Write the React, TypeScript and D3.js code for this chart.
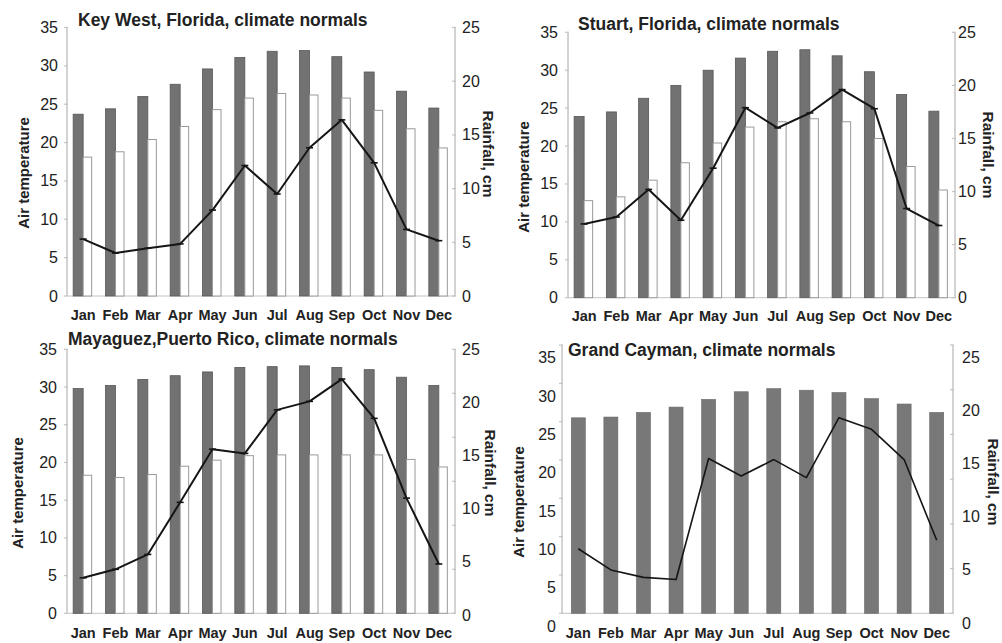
import React from "react";
import * as d3 from "d3";

// Month categories and axis tick labels
const months = ["Jan", "Feb", "Mar", "Apr", "May", "Jun", "Jul", "Aug", "Sep", "Oct", "Nov", "Dec"];
const tempTicks = [0, 5, 10, 15, 20, 25, 30, 35];
const rainTicks = [0, 5, 10, 15, 20, 25];

// Key West, Florida
const keyWestMax = [23.7, 24.4, 26.0, 27.6, 29.6, 31.1, 31.9, 32.0, 31.2, 29.2, 26.7, 24.5];
const keyWestMin = [18.1, 18.8, 20.4, 22.1, 24.3, 25.8, 26.4, 26.2, 25.8, 24.2, 21.8, 19.3];
const keyWestRain = [5.3, 4.0, 4.45, 4.85, 8.0, 12.15, 9.5, 13.8, 16.4, 12.4, 6.2, 5.15];

// Stuart, Florida
const stuartMax = [23.9, 24.5, 26.3, 28.0, 30.0, 31.6, 32.5, 32.7, 31.9, 29.8, 26.8, 24.6];
const stuartMin = [12.8, 13.3, 15.5, 17.8, 20.4, 22.5, 23.2, 23.6, 23.2, 21.0, 17.3, 14.2];
const stuartRain = [6.95, 7.6, 10.2, 7.3, 12.2, 17.9, 16.0, 17.4, 19.6, 17.8, 8.4, 6.8];

// Mayaguez, Puerto Rico
const mayaguezMax = [29.8, 30.2, 31.0, 31.5, 32.0, 32.6, 32.7, 32.8, 32.6, 32.3, 31.3, 30.2];
const mayaguezMin = [18.3, 18.0, 18.4, 19.5, 20.3, 20.9, 21.0, 21.0, 21.0, 21.0, 20.4, 19.4];
const mayaguezRain = [3.5, 4.3, 5.7, 10.6, 15.6, 15.2, 19.3, 20.1, 22.2, 18.5, 11.0, 4.8];

// Grand Cayman
const caymanTemp = [25.5, 25.6, 26.2, 26.9, 27.9, 28.9, 29.3, 29.1, 28.8, 28.0, 27.3, 26.2];
const caymanRain = [7.0, 5.0, 4.3, 4.1, 15.5, 13.85, 15.4, 13.7, 19.35, 18.25, 15.4, 7.8];

const FONT = "'Liberation Sans', Arial, Helvetica, sans-serif";
const AXIS = "#c4c4c4";
const DARK = "#727272";
const DARK_EDGE = "#575757";
const LIGHT_EDGE = "#9a9a9a";

type PanelProps = {
  title: string;
  maxT: number[];
  minT?: number[];
  rain: number[];
  left: number;
  right: number;
  top: number;
  bottom: number;
  tempLabelShift: number;
  rainTop: number;
  rainBottom: number;
  rightTickIntervals: number;
  leftLabelGap: number;
  rightLabelGap: number;
  xLabelY: number;
  titleX: number;
  titleY: number;
  yTitleX: number;
  yTitleY: number;
  rTitleX: number;
  rTitleY: number;
  markers: boolean;
  lineWidth: number;
};

function Panel(p: PanelProps) {
  const x = d3.scaleBand<string>().domain(months).range([p.left, p.right]).padding(0);
  const yT = d3.scaleLinear().domain([0, 35]).range([p.bottom, p.top]);
  const yR = d3.scaleLinear().domain([0, 25]).range([p.rainBottom, p.rainTop]);
  const rightTickScale = d3.scaleLinear().domain([0, p.rightTickIntervals]).range([p.bottom, p.top]);
  const center = (m: string) => (x(m) ?? 0) + x.bandwidth() / 2;

  const line = d3
    .line<number>()
    .x((_, i) => center(months[i]))
    .y((d) => yR(d));

  const paired = !!p.minT;

  return (
    <g>
      {/* axes */}
      <line x1={p.left} x2={p.left} y1={p.top} y2={p.bottom} stroke={AXIS} strokeWidth={1.5} />
      <line x1={p.right} x2={p.right} y1={p.top} y2={p.bottom} stroke={AXIS} strokeWidth={1.5} />
      <line x1={p.left} x2={p.right} y1={p.bottom} y2={p.bottom} stroke={AXIS} strokeWidth={1} />
      {tempTicks.map((t) => (
        <g key={"lt" + t}>
          <line x1={p.left - 3} x2={p.left + 1} y1={yT(t)} y2={yT(t)} stroke={AXIS} strokeWidth={1.2} />
          <text
            x={p.left - p.leftLabelGap}
            y={yT(t) + p.tempLabelShift}
            textAnchor="end"
            dominantBaseline="central"
            fontSize={16}
            fill="#222"
          >
            {t}
          </text>
        </g>
      ))}
      {d3.range(p.rightTickIntervals + 1).map((i) => (
        <line
          key={"rt" + i}
          x1={p.right - 3}
          x2={p.right + 1}
          y1={rightTickScale(i)}
          y2={rightTickScale(i)}
          stroke={AXIS}
          strokeWidth={1.2}
        />
      ))}
      {rainTicks.map((t) => (
        <text
          key={"rl" + t}
          x={p.right + p.rightLabelGap}
          y={yR(t)}
          textAnchor="start"
          dominantBaseline="central"
          fontSize={16}
          fill="#222"
        >
          {t}
        </text>
      ))}

      {/* bars */}
      {months.map((m, i) => {
        const c = center(m);
        if (paired) {
          return (
            <g key={"b" + m}>
              <rect
                x={c - 10}
                y={yT(p.maxT[i])}
                width={10}
                height={p.bottom - yT(p.maxT[i])}
                fill={DARK}
                stroke={DARK_EDGE}
                strokeWidth={0.8}
              />
              <rect
                x={c}
                y={yT(p.minT![i])}
                width={8.5}
                height={p.bottom - yT(p.minT![i])}
                fill="#fff"
                stroke={LIGHT_EDGE}
                strokeWidth={1}
              />
            </g>
          );
        }
        return (
          <rect
            key={"b" + m}
            x={c - 7}
            y={yT(p.maxT[i])}
            width={14}
            height={p.bottom - yT(p.maxT[i])}
            fill="#787878"
            stroke="#666"
            strokeWidth={0.6}
          />
        );
      })}

      {/* rainfall line */}
      <path d={line(p.rain) ?? ""} fill="none" stroke="#151515" strokeWidth={p.lineWidth} strokeLinejoin="round" />
      {p.markers &&
        p.rain.map((r, i) => (
          <line
            key={"mk" + i}
            x1={center(months[i]) - 3.5}
            x2={center(months[i]) + 3.5}
            y1={yR(r)}
            y2={yR(r)}
            stroke="#151515"
            strokeWidth={1.6}
          />
        ))}

      {/* month labels */}
      {months.map((m) => (
        <text
          key={"x" + m}
          x={center(m)}
          y={p.xLabelY}
          textAnchor="middle"
          dominantBaseline="central"
          fontSize={14.5}
          fontWeight="bold"
          fill="#222"
        >
          {m}
        </text>
      ))}

      {/* titles */}
      <text x={p.titleX} y={p.titleY} dominantBaseline="central" fontSize={17.5} fontWeight="bold" fill="#222">
        {p.title}
      </text>
      <text
        transform={`translate(${p.yTitleX},${p.yTitleY}) rotate(-90)`}
        textAnchor="middle"
        dominantBaseline="central"
        fontSize={15}
        fontWeight="bold"
        fill="#222"
      >
        Air temperature
      </text>
      <text
        transform={`translate(${p.rTitleX},${p.rTitleY}) rotate(90)`}
        textAnchor="middle"
        dominantBaseline="central"
        fontSize={15.5}
        fontWeight="bold"
        fill="#222"
      >
        Rainfall, cm
      </text>
    </g>
  );
}

export default function App() {
  return (
    <svg
      width={1002}
      height={643}
      style={{ position: "absolute", left: 0, top: 0, background: "#fff", fontFamily: FONT }}
    >
      <Panel
        title="Key West, Florida, climate normals"
        maxT={keyWestMax}
        minT={keyWestMin}
        rain={keyWestRain}
        left={67}
        right={455}
        top={27.5}
        bottom={296}
        tempLabelShift={0}
        rainTop={27.5}
        rainBottom={296}
        rightTickIntervals={5}
        leftLabelGap={9}
        rightLabelGap={7}
        xLabelY={315}
        titleX={78}
        titleY={20}
        yTitleX={23}
        yTitleY={173}
        rTitleX={488}
        rTitleY={154}
        markers={true}
        lineWidth={2}
      />
      <Panel
        title="Stuart, Florida, climate normals"
        maxT={stuartMax}
        minT={stuartMin}
        rain={stuartRain}
        left={568}
        right={955}
        top={32.3}
        bottom={297.7}
        tempLabelShift={0}
        rainTop={32.3}
        rainBottom={297.7}
        rightTickIntervals={5}
        leftLabelGap={10}
        rightLabelGap={3}
        xLabelY={316}
        titleX={578}
        titleY={24}
        yTitleX={523}
        yTitleY={177}
        rTitleX={988}
        rTitleY={155}
        markers={true}
        lineWidth={2}
      />
      <Panel
        title="Mayaguez,Puerto Rico, climate normals"
        maxT={mayaguezMax}
        minT={mayaguezMin}
        rain={mayaguezRain}
        left={67}
        right={455}
        top={349.3}
        bottom={613.3}
        tempLabelShift={0}
        rainTop={349.3}
        rainBottom={615}
        rightTickIntervals={6}
        leftLabelGap={10}
        rightLabelGap={7}
        xLabelY={633}
        titleX={68}
        titleY={339}
        yTitleX={17}
        yTitleY={493}
        rTitleX={490}
        rTitleY={473}
        markers={true}
        lineWidth={2}
      />
      <Panel
        title="Grand Cayman, climate normals"
        maxT={caymanTemp}
        rain={caymanRain}
        left={562}
        right={953}
        top={345}
        bottom={613.3}
        tempLabelShift={12.7}
        rainTop={357.7}
        rainBottom={623}
        rightTickIntervals={6}
        leftLabelGap={6}
        rightLabelGap={9}
        xLabelY={633}
        titleX={568}
        titleY={350}
        yTitleX={518}
        yTitleY={502}
        rTitleX={993}
        rTitleY={482}
        markers={false}
        lineWidth={1.6}
      />
    </svg>
  );
}
